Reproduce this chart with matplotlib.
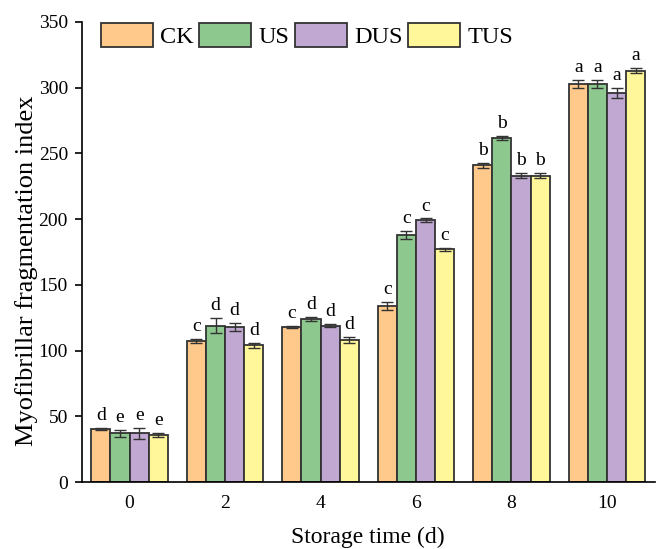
import matplotlib.pyplot as plt
import numpy as np

plt.rcParams['font.family'] = 'Liberation Serif'

days = ['0', '2', '4', '6', '8', '10']
groups = ['CK', 'US', 'DUS', 'TUS']
colors = ['#FFC98B', '#8DC88E', '#C0A8D2', '#FFF79A']

ck = [40, 107, 118, 134, 241, 303]
us = [37, 119, 124, 188, 262, 303]
dus = [37, 118, 119, 199, 233, 296]
tus = [36, 104, 108, 177, 233, 313]

ck_err = [0.8, 1.5, 1.0, 3.0, 2.0, 3.0]
us_err = [2.5, 6.0, 1.5, 3.0, 1.5, 3.0]
dus_err = [4.0, 3.0, 1.2, 1.5, 2.0, 3.5]
tus_err = [1.5, 2.0, 2.0, 1.0, 2.0, 2.0]

ck_sig = ['d', 'c', 'c', 'c', 'b', 'a']
us_sig = ['e', 'd', 'd', 'c', 'b', 'a']
dus_sig = ['e', 'd', 'd', 'c', 'b', 'a']
tus_sig = ['e', 'd', 'd', 'c', 'b', 'a']

values = [ck, us, dus, tus]
errors = [ck_err, us_err, dus_err, tus_err]
letters = [ck_sig, us_sig, dus_sig, tus_sig]

fig = plt.figure(figsize=(6.6, 5.49), dpi=100)
ax = fig.add_axes([0.124, 0.122, 0.868, 0.838])

x = np.arange(len(days))
w = 0.2
for i in range(4):
    pos = x + (i - 1.5) * w
    ax.bar(pos, values[i], w, color=colors[i], edgecolor='#333333', linewidth=1.3,
           label=groups[i], zorder=2)
    ax.errorbar(pos, values[i], yerr=errors[i], fmt='none', ecolor='#333333',
                elinewidth=1, capsize=4, capthick=1, zorder=3)
    for p, v, e, s in zip(pos, values[i], errors[i], letters[i]):
        ax.text(p, v + e + 3, s, ha='center', va='bottom', fontsize=14)

ax.set_xlim(-0.5, 5.5)
ax.set_ylim(0, 350)
ax.set_xticks(x)
ax.set_xticklabels(days)
ax.set_yticks(np.arange(0, 351, 50))
ax.tick_params(axis='x', length=0, labelsize=14, pad=9)
ax.tick_params(axis='y', direction='out', length=5, width=1.2, labelsize=14, pad=5)
ax.spines['top'].set_visible(False)
ax.spines['right'].set_visible(False)
ax.spines['left'].set_linewidth(1.2)
ax.spines['bottom'].set_linewidth(1.2)

ax.set_xlabel('Storage time (d)', fontsize=17)
ax.set_ylabel('Myofibrillar fragmentation index', fontsize=19)
ax.xaxis.set_label_coords(0.5, -0.098)
ax.yaxis.set_label_coords(-0.076, 0.459)

ax.legend(loc='upper left', ncol=4, frameon=False, fontsize=17.5,
          bbox_to_anchor=(0.033, 0.997), handlelength=2.14, handleheight=1.1,
          handletextpad=0.28, columnspacing=0.25, borderpad=0, borderaxespad=0)

plt.savefig('out.png', dpi=100)
